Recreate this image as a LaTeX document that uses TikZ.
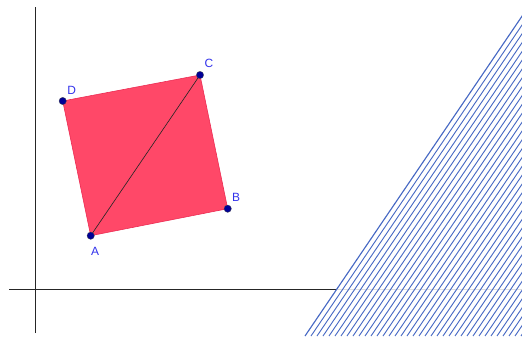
\documentclass[tikz,border=0pt]{standalone}
\usepackage{fontspec}
\setmainfont{Liberation Sans}
\usetikzlibrary{calc}

\definecolor{sqfill}{RGB}{255,72,104}
\definecolor{sqedge}{RGB}{235,40,80}
\definecolor{ptblue}{RGB}{0,0,150}
\definecolor{lblblue}{RGB}{50,50,235}
\definecolor{hatchblue}{RGB}{70,104,196}

\tikzset{
  axisline/.style={line width=1.4pt, black!85},
  hatchline/.style={line width=1.3pt, hatchblue},
  pt/.style={circle, fill=ptblue, draw=black!70, line width=0.4pt, inner sep=0pt, minimum size=10.5pt},
  lbl/.style={text=lblblue, font=\fontsize{17}{19}\selectfont, inner sep=0pt},
}

\begin{document}
\begin{tikzpicture}[x=0.5mm, y=0.5mm]

  \useasboundingbox (0,0) rectangle (522,336);

  % Axes
  \draw[axisline] (35.7,3) -- (35.7,329);
  \draw[axisline] (9,46.7) -- (522,46.7);

  % Hatched half-plane (region right of the line)
  \begin{scope}
    \clip (0,0) rectangle (522,336);
    \fill[white, opacity=0.85] (305,0) -- (533,336) -- (560,336) -- (560,0) -- cycle;
    \draw[hatchline, line width=1.6pt] (305,0) -- ++(228,336);
    \foreach \k in {1,...,38}
      \draw[hatchline] (305+6*\k,0) -- ++(228,336);
  \end{scope}

  % Square ABCD
  \coordinate (A) at (90.7,100.3);
  \coordinate (B) at (227.7,127.3);
  \coordinate (C) at (200,261);
  \coordinate (D) at (62.7,235);
  \filldraw[fill=sqfill, draw=sqedge, line width=0.8pt] (A) -- (B) -- (C) -- (D) -- cycle;

  % Diagonal AC
  \draw[line width=0.9pt, black!85] (A) -- (C);

  % Points
  \node[pt] (pA) at (A) {};
  \node[pt] (pB) at (B) {};
  \node[pt] (pC) at (C) {};
  \node[pt] (pD) at (D) {};

  % Labels
  \node[lbl] (lA) at (95,85) {A};
  \node[lbl] (lB) at (236,138.5) {B};
  \node[lbl] (lC) at (209,273) {C};
  \node[lbl] (lD) at (71.7,246) {D};

\end{tikzpicture}
\end{document}
